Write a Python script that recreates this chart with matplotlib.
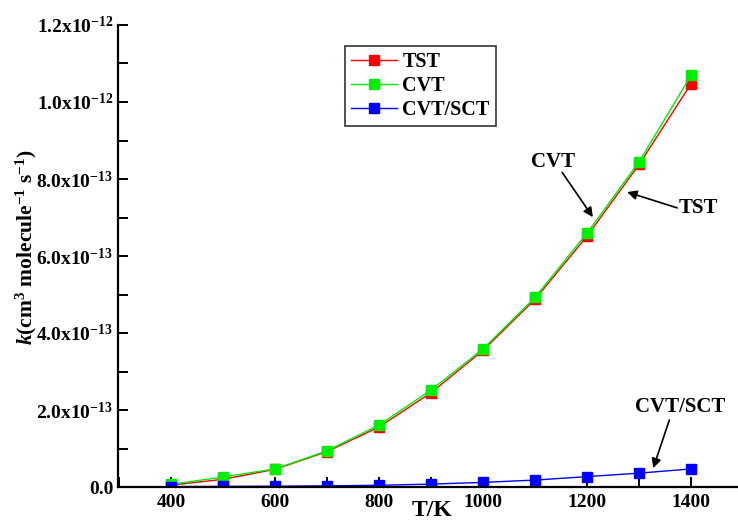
import numpy as np
import matplotlib
matplotlib.use('Agg')
import matplotlib.pyplot as plt
from matplotlib.ticker import FuncFormatter, MultipleLocator

plt.rcParams['font.family'] = ['Liberation Serif', 'DejaVu Serif']
plt.rcParams['font.weight'] = 'bold'
plt.rcParams['mathtext.fontset'] = 'custom'
plt.rcParams['mathtext.rm'] = 'Liberation Serif:bold'
plt.rcParams['mathtext.bf'] = 'Liberation Serif:bold'
plt.rcParams['mathtext.it'] = 'Liberation Serif:italic:bold'

# Data, rate constants in cm^3 molecule^-1 s^-1
T = [400, 500, 600, 700, 800, 900, 1000, 1100, 1200, 1300, 1400]
k_tst = [5e-15, 2.0e-14, 4.6e-14, 9.2e-14, 1.56e-13, 2.45e-13, 3.55e-13,
         4.88e-13, 6.52e-13, 8.38e-13, 1.048e-12]
k_cvt = [7e-15, 2.6e-14, 4.7e-14, 9.4e-14, 1.61e-13, 2.52e-13, 3.59e-13,
         4.93e-13, 6.60e-13, 8.45e-13, 1.070e-12]
k_sct = [1e-15, 1.5e-15, 2e-15, 3e-15, 4.5e-15, 7.5e-15, 1.2e-14,
         1.8e-14, 2.7e-14, 3.6e-14, 4.7e-14]

fig = plt.figure(figsize=(7.38, 5.24), dpi=100)
ax = fig.add_axes([118/738, 37/524, 620/738, 462/524])

ax.plot(T, k_tst, color='red', marker='s', ms=6.5, lw=1.0, label='TST')
ax.plot(T, k_cvt, color='#00ee00', marker='s', ms=6.5, lw=1.0, label='CVT')
ax.plot(T, k_sct, color='blue', marker='s', ms=6.5, lw=1.0, label='CVT/SCT')

ax.set_xlim(298, 1490)
ax.set_ylim(0, 1.2e-12)

ax.spines['top'].set_visible(False)
ax.spines['right'].set_visible(False)
ax.spines['left'].set_linewidth(1.6)
ax.spines['bottom'].set_linewidth(1.6)

ax.xaxis.set_major_locator(MultipleLocator(200))
ax.xaxis.set_minor_locator(MultipleLocator(100))
ax.yaxis.set_major_locator(MultipleLocator(2e-13))
ax.yaxis.set_minor_locator(MultipleLocator(1e-13))
ax.tick_params(which='both', direction='in', width=1.4, labelsize=14)
ax.tick_params(which='major', length=7)
ax.tick_params(which='minor', length=7)
ax.tick_params(axis='x', pad=5)


def yfmt(v, pos):
    if abs(v) < 1e-20:
        return '0.0'
    e = int(np.floor(np.log10(abs(v))))
    m = v / 10**e
    return r'%.1fx10$^{%d}$' % (m, e)


ax.yaxis.set_major_formatter(FuncFormatter(yfmt))
for lab in ax.get_xticklabels() + ax.get_yticklabels():
    lab.set_fontweight('bold')

ax.set_xlabel('T/K', fontsize=17, fontweight='bold')
ax.xaxis.set_label_coords((432 - 118) / 620, -0.028)
ax.set_ylabel(r'$k$(cm$^3$ molecule$^{-1}$ s$^{-1}$)', fontsize=15.5, fontweight='bold')
ax.yaxis.set_label_coords(-0.128, 0.52)

leg = ax.legend(loc='upper left', bbox_to_anchor=((345 - 118) / 620, (487 - 46) / 462),
                frameon=True, fancybox=False, edgecolor='black', borderaxespad=0,
                handlelength=2.3, borderpad=0.3, labelspacing=0.2, handletextpad=0.25,
                prop={'weight': 'bold', 'size': 14.5})
leg.get_frame().set_linewidth(1.2)

arrow = dict(arrowstyle='-|>', color='black', lw=1.2, mutation_scale=14,
             shrinkA=0, shrinkB=0)
ax.text(1135, 8.45e-13, 'CVT', fontsize=15, fontweight='bold', ha='center', va='center')
ax.annotate('', xy=(1211, 7.01e-13), xytext=(1152, 8.17e-13), arrowprops=arrow)
ax.text(1413, 7.25e-13, 'TST', fontsize=15, fontweight='bold', ha='center', va='center')
ax.annotate('', xy=(1277, 7.66e-13), xytext=(1373, 7.25e-13), arrowprops=arrow)
ax.text(1379, 2.08e-13, 'CVT/SCT', fontsize=15, fontweight='bold', ha='center', va='center')
ax.annotate('', xy=(1327, 4.9e-14), xytext=(1358, 1.74e-13), arrowprops=arrow)

fig.savefig('out.png', dpi=100)
